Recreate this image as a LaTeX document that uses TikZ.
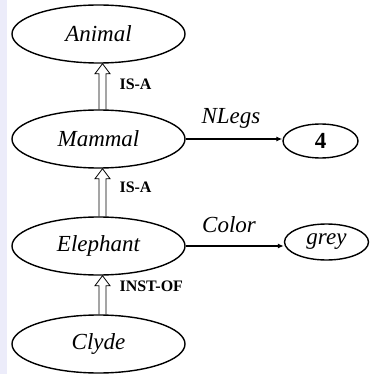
\documentclass[tikz,border=0pt]{standalone}
\usepackage{fontspec}
\setmainfont{Liberation Serif}
\usetikzlibrary{shapes.geometric,arrows.meta,calc}

\definecolor{sidestrip}{RGB}{236,236,250}

\tikzset{
  concept/.style={draw, line width=1.4pt, ellipse, inner sep=0pt,
    minimum width=173pt, minimum height=58pt,
    font=\fontsize{23}{27}\selectfont\itshape},
  valuebox/.style={draw, line width=1.4pt, ellipse, inner sep=0pt},
  slotarrow/.style={line width=1.7pt, -{Latex[length=6pt,width=5pt]}},
  slotlabel/.style={font=\fontsize{23}{27}\selectfont\itshape},
  linklabel/.style={anchor=west, font=\fontsize{16}{19}\selectfont\bfseries},
  hollow/.style={line width=0.8pt, line join=miter}
}

% open double-shafted arrow from the top of #1 up to the bottom of #2
\newcommand\hollowlink[2]{%
  \draw[hollow] let \p1=(#1.north), \p2=(#2.south) in
    (\x1+0.5pt,\y1) -- (\x1+0.5pt,\y2-10pt) -- (\x1-3.5pt,\y2-10pt)
    -- (\x1+4pt,\y2) -- (\x1+11.5pt,\y2-10pt) -- (\x1+7.5pt,\y2-10pt)
    -- (\x1+7.5pt,\y1);}

\begin{document}
\begin{tikzpicture}[x=1pt,y=-1pt]
  \useasboundingbox (0,0) rectangle (370,374);
  \fill[white] (0,0) rectangle (370,374);
  \fill[sidestrip] (0,0) rectangle (7,374);

  % class hierarchy
  \node[concept] (animal)   at (98.5,34)  {Animal};
  \node[concept] (mammal)   at (98.5,139) {Mammal};
  \node[concept] (elephant) at (98.5,246) {Elephant};
  \node[concept] (clyde)    at (98.5,344) {Clyde};

  % slot values
  \node[valuebox, minimum width=75pt, minimum height=34pt,
        font=\fontsize{23}{27}\selectfont\bfseries] (four) at (320.5,141) {4};
  \node[valuebox, minimum width=84pt, minimum height=36pt,
        font=\fontsize{23}{27}\selectfont\itshape] (grey) at (326.5,242) {grey};

  % inheritance links
  \hollowlink{mammal}{animal}
  \hollowlink{elephant}{mammal}
  \hollowlink{clyde}{elephant}
  \node[linklabel] (isa1)   at (116,84)  {IS-A};
  \node[linklabel] (isa2)   at (116,187) {IS-A};
  \node[linklabel] (instof) at (116,286) {INST-OF};

  % slots
  \draw[slotarrow] (mammal.east) -- (mammal.east -| four.west);
  \draw[slotarrow] (elephant.east) -- (elephant.east -| grey.west);
  \node[slotlabel] (nlegs) at (231,118) {NLegs};
  \node[slotlabel] (color) at (229,225) {Color};
\end{tikzpicture}
\end{document}
